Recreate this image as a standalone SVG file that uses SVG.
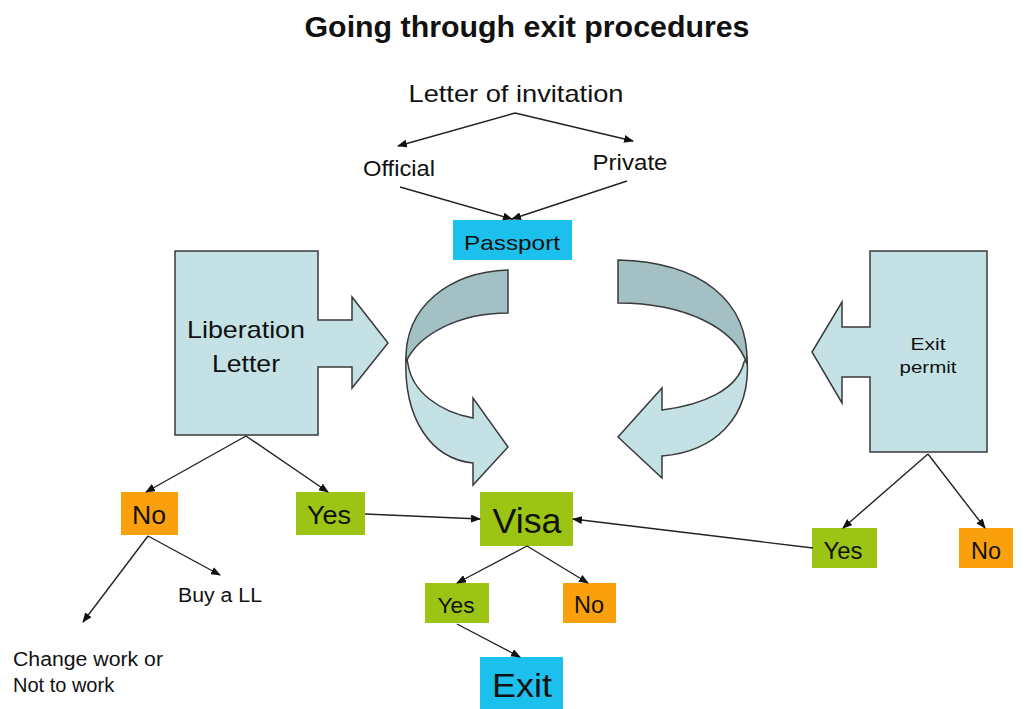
<svg xmlns="http://www.w3.org/2000/svg" width="1036" height="709" viewBox="0 0 1036 709">
<defs>
<marker id="ah" markerWidth="10" markerHeight="8" refX="9" refY="4" orient="auto" markerUnits="userSpaceOnUse">
<path d="M0,0 L10,4 L0,8 Z" fill="#111"/>
</marker>
</defs>
<style>
text{font-family:"Liberation Sans",Arial,sans-serif;fill:#111}
.t{font-size:24px}
.shape{fill:#c4e2e6;stroke:#3a3a3a;stroke-width:1.5}
.dark{fill:#a3c1c5;stroke:#3a3a3a;stroke-width:1.5}
.green{fill:#9cc414}
.orange{fill:#f9a00c}
.cyan{fill:#1cc0ec}
.conn line{stroke:#222;stroke-width:1.4;marker-end:url(#ah)}
</style>
<rect width="1036" height="709" fill="#fff"/>
<text x="527" y="37" text-anchor="middle" font-size="29" font-weight="bold" textLength="445" lengthAdjust="spacingAndGlyphs">Going through exit procedures</text>

<g id="letter-invitation"><text x="516" y="102" text-anchor="middle" font-size="24" textLength="215" lengthAdjust="spacingAndGlyphs">Letter of invitation</text></g>
<g id="official"><text x="399" y="176" text-anchor="middle" font-size="22" textLength="72" lengthAdjust="spacingAndGlyphs">Official</text></g>
<g id="private"><text x="630" y="170" text-anchor="middle" font-size="22" textLength="75" lengthAdjust="spacingAndGlyphs">Private</text></g>
<g id="passport"><rect class="cyan" x="453" y="220" width="119" height="40"/><text x="512" y="250" text-anchor="middle" font-size="21" textLength="96" lengthAdjust="spacingAndGlyphs">Passport</text></g>

<g id="liberation-letter">
<path class="shape" d="M175,251 H318 V320 H352 V297 L388,343 L352,388 V367 H318 V435 H175 Z"/>
<text x="246" y="338" text-anchor="middle" font-size="24" textLength="118" lengthAdjust="spacingAndGlyphs">Liberation</text>
<text x="246" y="372" text-anchor="middle" font-size="24" textLength="68" lengthAdjust="spacingAndGlyphs">Letter</text>
</g>

<g id="exit-permit">
<path class="shape" d="M870,251 H987 V452 H870 V377 H842 V403 L812,352 L842,302 V327 H870 Z"/>
<text x="928" y="350" text-anchor="middle" font-size="17" textLength="35" lengthAdjust="spacingAndGlyphs">Exit</text>
<text x="928" y="373" text-anchor="middle" font-size="17" textLength="57" lengthAdjust="spacingAndGlyphs">permit</text>
</g>

<g id="curved-left">
<path class="shape" d="M406,356 C403,420 432,459 473,463 L473,485 L508,447 L473,398 L473,418 C440,412 412,392 408,364 Z"/>
<path class="dark" d="M508,270 C450,272 404,306 406,362 C418,335 458,313 508,313 Z"/>
</g>

<g id="curved-right">
<path class="shape" d="M747,358 C752,420 712,452 662,456 L662,478 L618,437 L662,388 L662,410 C702,405 738,390 744,362 Z"/>
<path class="dark" d="M618,260 C700,262 749,300 747,364 C735,328 685,303 618,303 Z"/>
</g>

<g id="no-left"><rect class="orange" x="121" y="492" width="57" height="43"/><text x="149" y="524" text-anchor="middle" font-size="26" textLength="34" lengthAdjust="spacingAndGlyphs">No</text></g>
<g id="yes-left"><rect class="green" x="296" y="492" width="69" height="43"/><text x="329" y="524" text-anchor="middle" font-size="26" textLength="44" lengthAdjust="spacingAndGlyphs">Yes</text></g>
<g id="buy-ll"><text x="220" y="602" text-anchor="middle" font-size="20" textLength="84" lengthAdjust="spacingAndGlyphs">Buy a LL</text></g>
<g id="change-work"><text x="13" y="666" font-size="20" textLength="150" lengthAdjust="spacingAndGlyphs">Change work or</text><text x="13" y="692" font-size="20">Not to work</text></g>
<g id="visa"><rect class="green" x="480" y="492" width="93" height="54"/><text x="527" y="533" text-anchor="middle" font-size="35" textLength="69" lengthAdjust="spacingAndGlyphs">Visa</text></g>
<g id="yes-visa"><rect class="green" x="425" y="583" width="64" height="40"/><text x="456" y="613" text-anchor="middle" font-size="22" textLength="37" lengthAdjust="spacingAndGlyphs">Yes</text></g>
<g id="no-visa"><rect class="orange" x="563" y="583" width="53" height="40"/><text x="589" y="613" text-anchor="middle" font-size="23" textLength="30" lengthAdjust="spacingAndGlyphs">No</text></g>
<g id="exit"><rect class="cyan" x="480" y="657" width="83" height="52"/><text x="522" y="697" text-anchor="middle" font-size="34" textLength="60" lengthAdjust="spacingAndGlyphs">Exit</text></g>
<g id="yes-right"><rect class="green" x="812" y="528" width="65" height="40"/><text x="843" y="559" text-anchor="middle" font-size="23" textLength="39" lengthAdjust="spacingAndGlyphs">Yes</text></g>
<g id="no-right"><rect class="orange" x="959" y="528" width="54" height="40"/><text x="986" y="559" text-anchor="middle" font-size="23" textLength="30" lengthAdjust="spacingAndGlyphs">No</text></g>

<g class="conn">
<line x1="515" y1="113" x2="398" y2="146"/>
<line x1="515" y1="113" x2="633" y2="141"/>
<line x1="400" y1="187" x2="512" y2="219"/>
<line x1="627" y1="181" x2="512" y2="219"/>
<line x1="246" y1="436" x2="146" y2="492"/>
<line x1="246" y1="436" x2="328" y2="492"/>
<line x1="148" y1="536" x2="83" y2="622"/>
<line x1="148" y1="536" x2="220" y2="575"/>
<line x1="365" y1="514" x2="480" y2="519"/>
<line x1="813" y1="548" x2="573" y2="519"/>
<line x1="527" y1="546" x2="457" y2="583"/>
<line x1="527" y1="546" x2="588" y2="583"/>
<line x1="457" y1="624" x2="520" y2="657"/>
<line x1="928" y1="454" x2="843" y2="528"/>
<line x1="928" y1="454" x2="985" y2="528"/>
</g>
</svg>
